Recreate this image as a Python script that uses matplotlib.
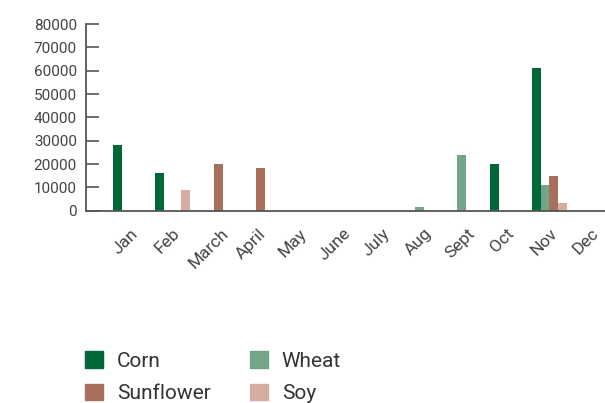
import numpy as np
import matplotlib
matplotlib.use("Agg")
import matplotlib.pyplot as plt
from matplotlib.patches import Patch

months = ["Jan", "Feb", "March", "April", "May", "June", "July", "Aug", "Sept", "Oct", "Nov", "Dec"]
corn = [28000, 16000, 0, 0, 0, 0, 0, 0, 0, 20000, 61000, 0]
wheat = [0, 0, 0, 0, 0, 0, 0, 1500, 24000, 0, 11000, 0]
sunflower = [0, 0, 20000, 18500, 0, 0, 0, 0, 0, 0, 15000, 0]
soy = [0, 9000, 0, 0, 0, 0, 0, 0, 0, 0, 3500, 0]

series = [("Corn", corn, "#006837"), ("Wheat", wheat, "#74a587"),
          ("Sunflower", sunflower, "#a6705c"), ("Soy", soy, "#d4ada0")]

plt.rcParams["font.family"] = ["Roboto", "DejaVu Sans"]

fig = plt.figure(figsize=(6.05, 4.03), dpi=100)
ax = fig.add_axes([86 / 605, 1 - 210.7 / 403, 1 - 86 / 605, (210.7 - 24) / 403])

x = np.arange(len(months))
w = 0.208
for k, (name, vals, col) in enumerate(series):
    ax.bar(x + (k - 1.5) * w, vals, width=w, color=col, label=name)

ax.set_xlim(-1.06, 11.33)
ax.set_ylim(0, 80000)
ax.set_yticks(np.arange(0, 80001, 10000))

ax.set_xticks(x - 0.12)
ax.set_xticklabels(months, rotation=45, fontsize=12.5, color="#444444")
ax.tick_params(axis="x", length=0, pad=11)
ax.tick_params(axis="y", direction="in", length=9.5, width=1.2, color="#555555",
               labelsize=11, labelcolor="#444444", pad=6.5)

for s in ["top", "right"]:
    ax.spines[s].set_visible(False)
for s in ["left", "bottom"]:
    ax.spines[s].set_color("#555555")
    ax.spines[s].set_linewidth(1.3)

handles = {name: Patch(color=col, label=name) for name, vals, col in series}
order = [handles["Corn"], handles["Sunflower"], handles["Wheat"], handles["Soy"]]
fig.legend(handles=order, ncol=2, loc="upper left",
           bbox_to_anchor=(85 / 605, 1 - 351 / 403), frameon=False,
           fontsize=15, handlelength=0.87, handleheight=0.87,
           handletextpad=0.65, columnspacing=1.9, labelspacing=0.62,
           borderpad=0, borderaxespad=0, labelcolor="#333333")

fig.savefig("out.png", dpi=100)
